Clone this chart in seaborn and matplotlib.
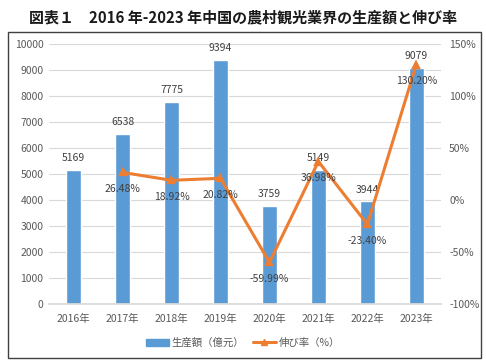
import numpy as np
import matplotlib
matplotlib.use('Agg')
import matplotlib.pyplot as plt
import seaborn as sns
from matplotlib.patches import Rectangle, Patch
from matplotlib.lines import Line2D

years = ['2016年', '2017年', '2018年', '2019年', '2020年', '2021年', '2022年', '2023年']
output = [5169, 6538, 7775, 9394, 3759, 5149, 3944, 9079]
growth = [np.nan, 26.48, 18.92, 20.82, -59.99, 36.98, -23.40, 130.20]
growth_labels = ['', '26.48%', '18.92%', '20.82%', '-59.99%', '36.98%', '-23.40%', '130.20%']

sns.set_theme(style='white')
plt.rcParams['font.family'] = ['Noto Sans CJK JP', 'DejaVu Sans']

blue = '#5B9BD5'
orange = '#ED7D31'
txt = '#595959'

fig = plt.figure(figsize=(4.86, 3.63), dpi=100)
ax = fig.add_axes([0.101, 0.1625, 0.806, 0.7165])

sns.barplot(x=years, y=output, color=blue, width=0.31, saturation=1, ax=ax)
ax.set_ylim(0, 10000)
ax.set_yticks(range(0, 10001, 1000))
ax.grid(axis='y', color='#D9D9D9', lw=0.8)
ax.set_axisbelow(True)
for s in ['left', 'right', 'top']:
    ax.spines[s].set_visible(False)
ax.spines['bottom'].set_color('#D9D9D9')
ax.tick_params(axis='both', length=0, labelsize=7.5, colors=txt, pad=4)
ax.tick_params(axis='x', pad=7)
for i, v in enumerate(output):
    ax.text(i, v + 260, str(v), ha='center', va='bottom', fontsize=7.5, color='#404040')

ax2 = ax.twinx()
sns.pointplot(x=years, y=growth, order=years, color=orange, markers='^',
              linestyles='-', errorbar=None, markersize=5, linewidth=2.2, ax=ax2)
ax2.set_ylim(-100, 150)
ax2.set_yticks(range(-100, 151, 50))
ax2.set_yticklabels([f'{t}%' for t in range(-100, 151, 50)])
ax2.set_xlim(-0.5, 7.5)
for s in ['left', 'right', 'top', 'bottom']:
    ax2.spines[s].set_visible(False)
ax2.tick_params(axis='y', length=0, labelsize=7.5, colors=txt, pad=6)
ax2.set_xlabel('')
ax2.set_ylabel('')
ax.set_xlabel('')
ax.set_ylabel('')
for i, (g, lab) in enumerate(zip(growth, growth_labels)):
    if lab:
        ax2.text(i, g - 11, lab, ha='center', va='top', fontsize=7.5, color='#404040')

handles = [Patch(color=blue, label='生産額（億元）'),
           Line2D([0], [0], color=orange, lw=2.2, marker='^', markersize=5, label='伸び率（%）')]
fig.legend(handles=handles, loc='center', bbox_to_anchor=(0.5, 1 - 343 / 363), ncol=2,
           frameon=False, fontsize=7.5, labelcolor=txt, handlelength=2.2, columnspacing=0.8,
           handletextpad=0.3)

fig.add_artist(Rectangle((8 / 486, 1 - 358 / 363), 473 / 486, 326 / 363,
                         transform=fig.transFigure, fill=False, edgecolor='#404040', lw=1))
fig.text(0.5, 1 - 17 / 363, '図表１　2016 年-2023 年中国の農村観光業界の生産額と伸び率',
         ha='center', va='center', fontsize=10.8, fontweight='bold', color='#1a1a1a')

fig.savefig('out.png', dpi=100)
